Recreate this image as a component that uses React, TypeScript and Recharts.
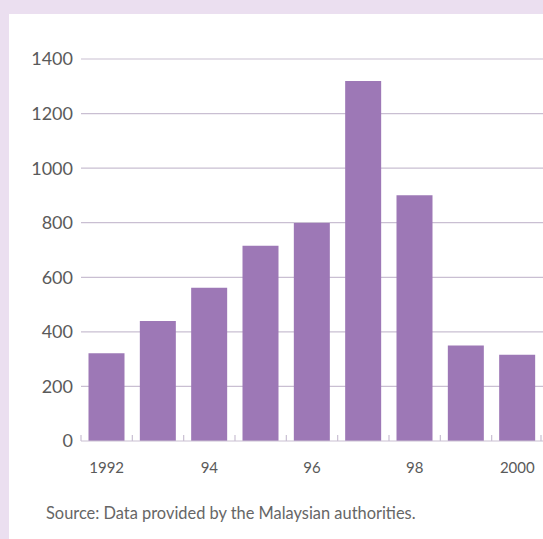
import { BarChart, Bar, XAxis, YAxis, CartesianGrid } from 'recharts';

const years = ['1992', '1993', '1994', '1995', '1996', '1997', '1998', '1999', '2000'];
const values = [322, 440, 562, 716, 799, 1319, 901, 350, 316];
const yearLabels = ['1992', '', '94', '', '96', '', '98', '', '2000'];
const yTicks = [0, 200, 400, 600, 800, 1000, 1200, 1400];

const data = years.map((year, i) => ({ year, value: values[i], label: yearLabels[i] }));

const FONT = 'Lato, "Open Sans", sans-serif';
const GRID = '#c9bfd2';
const TEXT = '#5a5a5a';
const BAR = '#9d78b6';

const CHART_W = 543;
const MARGIN_LEFT = 11;
const Y_AXIS_W = 70;
const BAND = (CHART_W - MARGIN_LEFT - Y_AXIS_W) / years.length;
const LABEL_DROP = 26;

function XTick(props: any) {
  const { x, y, index, payload } = props;
  const label = data[payload.index ?? index]?.label ?? '';
  return (
    <g>
      <line x1={x - BAND / 2} x2={x - BAND / 2} y1={y} y2={y - 6} stroke={GRID} strokeWidth={1.2} />
      {index === years.length - 1 && (
        <line x1={x + BAND / 2 - 2} x2={x + BAND / 2 - 2} y1={y} y2={y - 6} stroke={GRID} strokeWidth={1.2} />
      )}
      <text x={x} y={y + LABEL_DROP} textAnchor="middle" dominantBaseline="central" fill={TEXT} fontSize={15} fontFamily={FONT}>
        {label}
      </text>
    </g>
  );
}

export default function App() {
  return (
    <div style={{ position: 'absolute', left: 0, top: 0, width: 543, height: 539, background: '#ebdff0', overflow: 'hidden' }}>
      <div style={{ position: 'absolute', left: 9, top: 14, width: 534, height: 525, background: '#ffffff' }} />
      <div style={{ position: 'absolute', left: 0, top: 0 }}>
        <BarChart
          width={CHART_W}
          height={480}
          data={data}
          margin={{ top: 59, right: 0, left: MARGIN_LEFT, bottom: 9 }}
          barCategoryGap={7.5}
        >
          <CartesianGrid vertical={false} stroke={GRID} strokeWidth={1.2} horizontalValues={yTicks.slice(1)} />
          <XAxis
            dataKey="year"
            height={30}
            tickLine={false}
            tickSize={0}
            tickMargin={0}
            axisLine={{ stroke: GRID, strokeWidth: 1.2 }}
            interval={0}
            tick={<XTick />}
          />
          <YAxis
            width={Y_AXIS_W}
            domain={[0, 1400]}
            ticks={yTicks}
            axisLine={false}
            tickLine={false}
            tick={{ fill: TEXT, fontSize: 18, fontFamily: FONT }}
          />
          <Bar dataKey="value" fill={BAR} isAnimationActive={false} />
        </BarChart>
      </div>
      <div style={{ position: 'absolute', left: 46, top: 503, fontFamily: FONT, fontSize: 16.4, color: '#666' }}>
        Source: Data provided by the Malaysian authorities.
      </div>
    </div>
  );
}
